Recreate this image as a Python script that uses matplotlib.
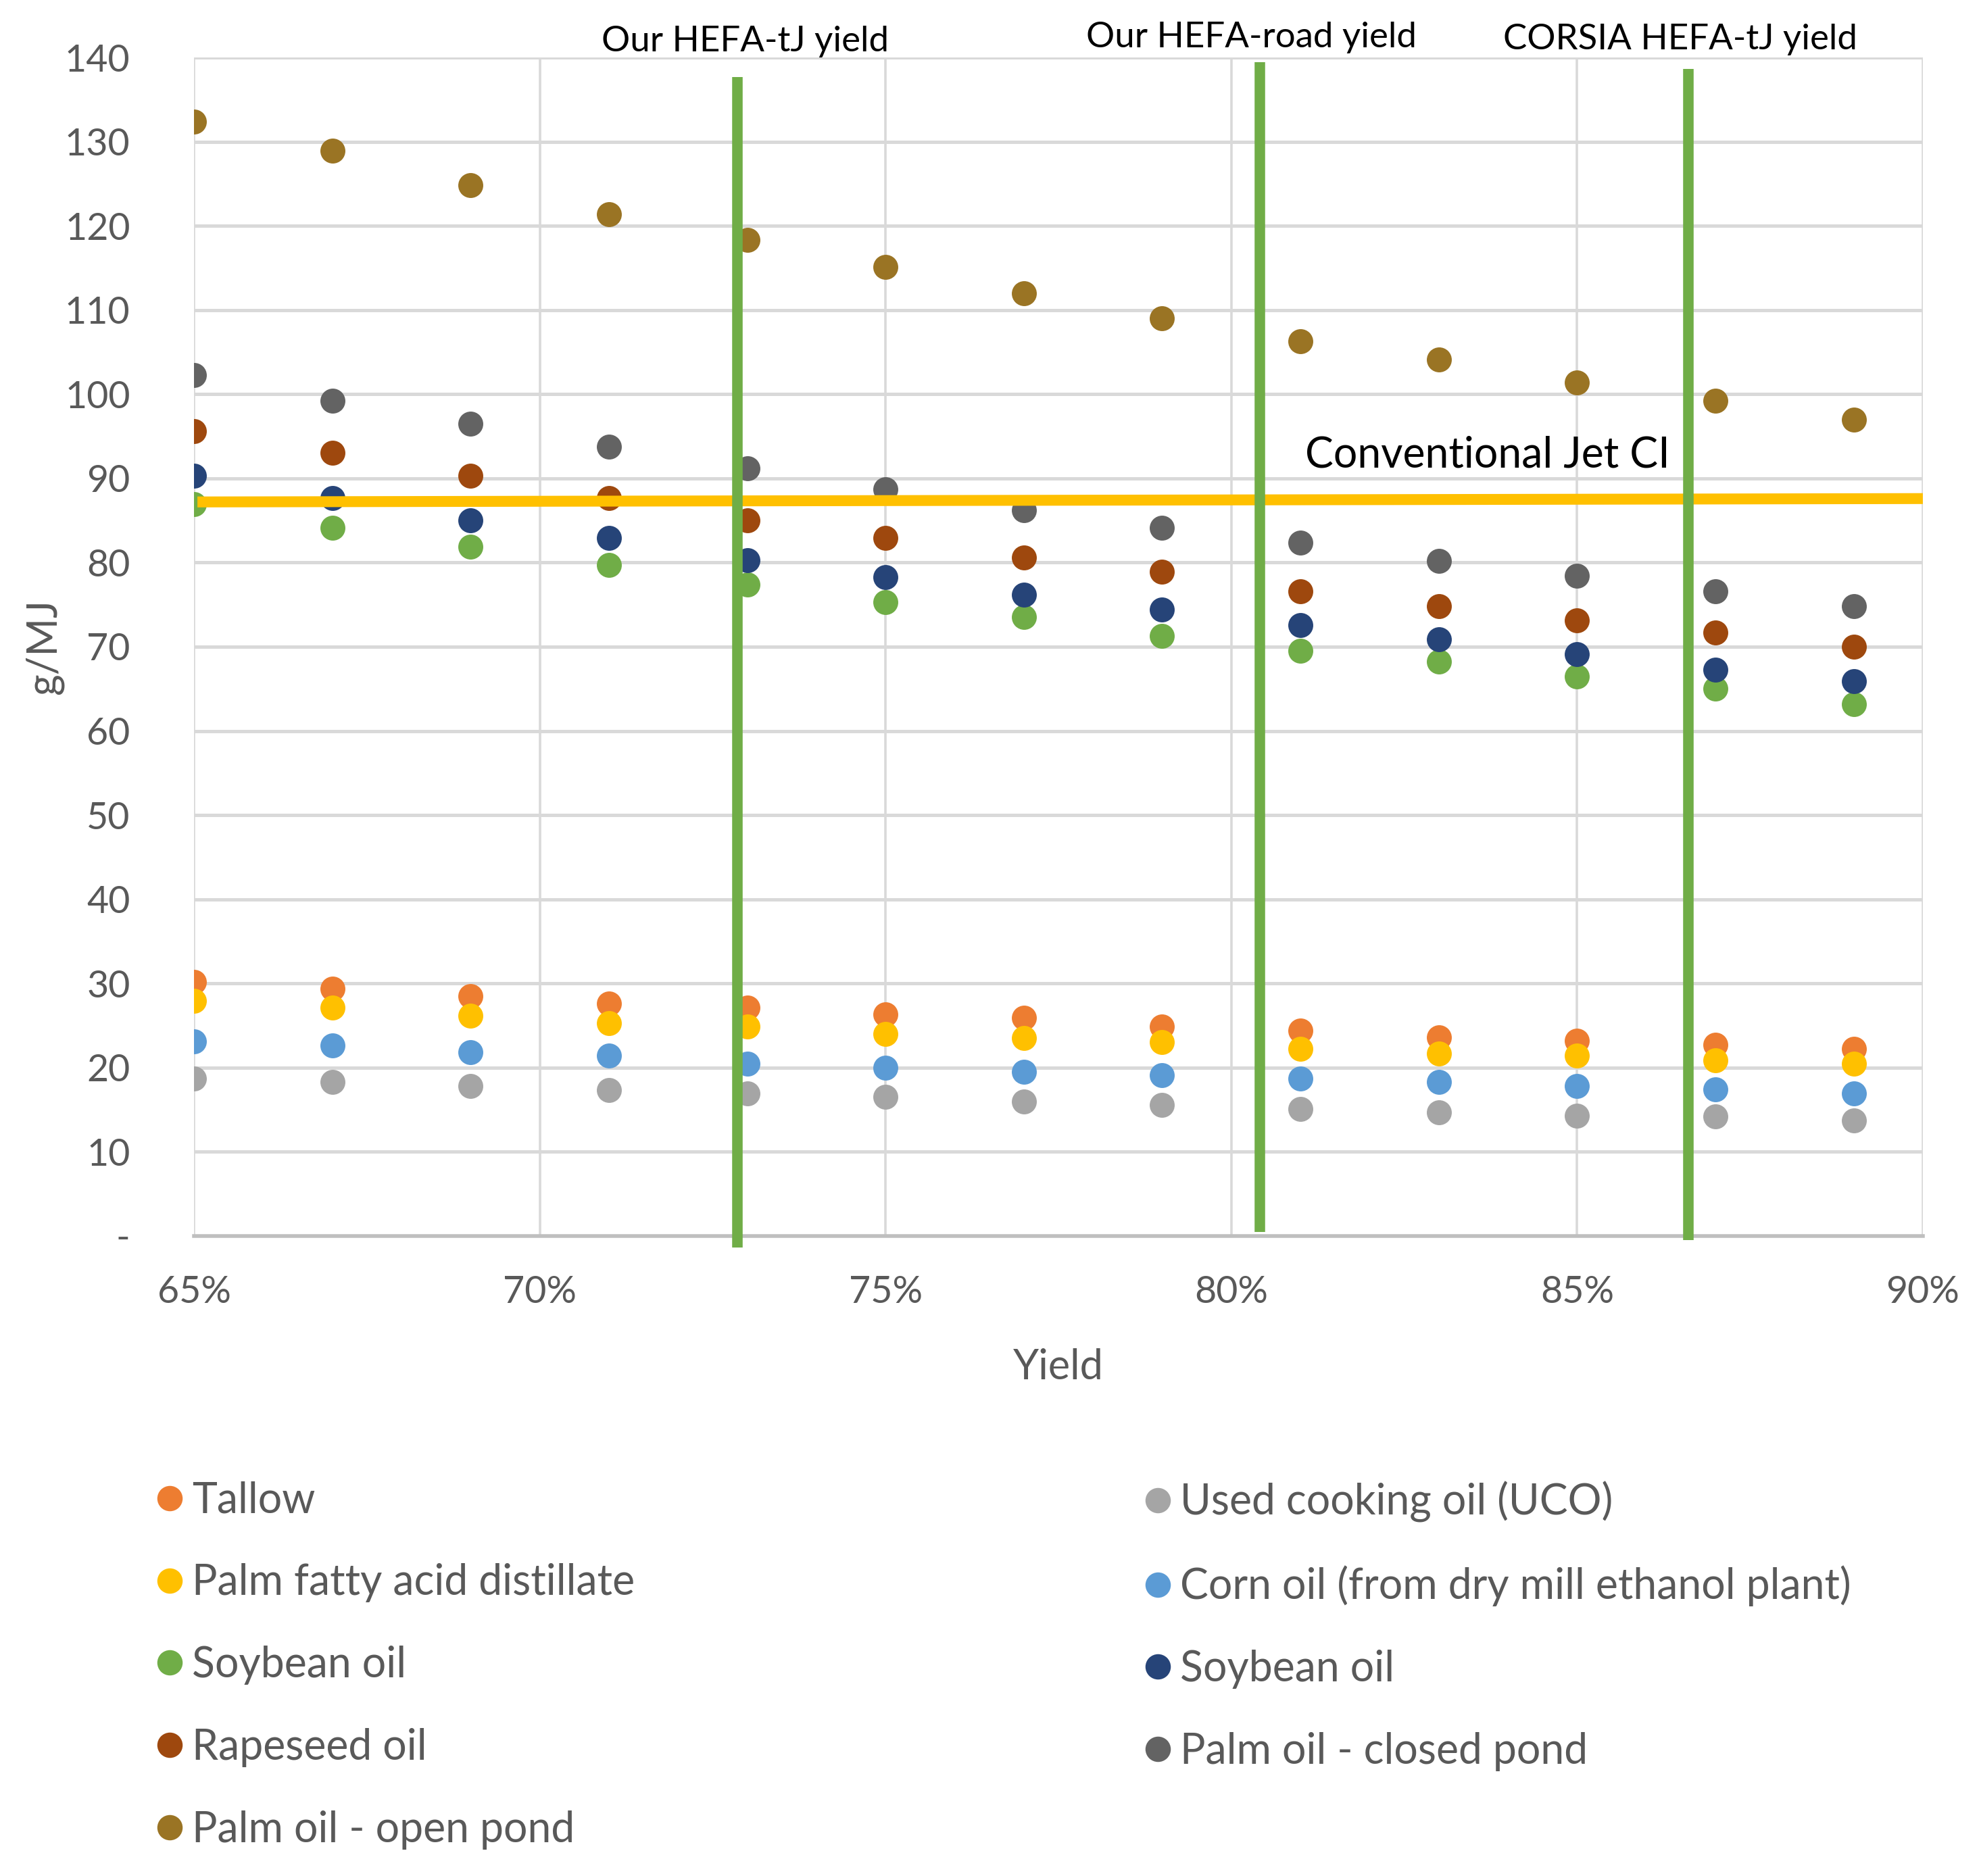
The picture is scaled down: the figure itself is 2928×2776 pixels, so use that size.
import matplotlib
matplotlib.use('Agg')
import matplotlib.pyplot as plt
from matplotlib.lines import Line2D
from matplotlib.ticker import FuncFormatter, PercentFormatter

# ---------------- data ----------------
yields = [0.65, 0.67, 0.69, 0.71, 0.73, 0.75, 0.77, 0.79, 0.81, 0.83, 0.85, 0.87, 0.89]

tallow        = [30.2, 29.4, 28.5, 27.6, 27.1, 26.3, 25.9, 24.9, 24.4, 23.6, 23.2, 22.7, 22.2]
uco           = [18.7, 18.3, 17.8, 17.3, 16.9, 16.5, 16.0, 15.6, 15.1, 14.7, 14.3, 14.2, 13.7]
pfad          = [27.9, 27.1, 26.2, 25.3, 24.9, 24.0, 23.5, 23.0, 22.2, 21.7, 21.4, 20.9, 20.5]
corn_oil      = [23.1, 22.6, 21.8, 21.4, 20.5, 20.0, 19.5, 19.1, 18.7, 18.3, 17.8, 17.4, 16.9]
soy_green     = [86.9, 84.1, 81.9, 79.7, 77.4, 75.3, 73.5, 71.3, 69.5, 68.2, 66.5, 65.0, 63.2]
soy_blue      = [90.3, 87.7, 85.0, 82.9, 80.3, 78.3, 76.2, 74.4, 72.6, 70.9, 69.1, 67.3, 65.9]
rapeseed      = [95.6, 93.0, 90.3, 87.7, 85.0, 82.9, 80.6, 78.9, 76.6, 74.8, 73.1, 71.7, 70.0]
palm_closed   = [102.3, 99.2, 96.5, 93.8, 91.2, 88.7, 86.2, 84.1, 82.4, 80.2, 78.4, 76.6, 74.8]
palm_open     = [132.4, 128.9, 124.8, 121.4, 118.3, 115.1, 112.0, 109.0, 106.3, 104.1, 101.4, 99.2, 97.0]

series_labels = ["Tallow", "Used cooking oil (UCO)", "Palm fatty acid distillate",
                 "Corn oil (from dry mill ethanol plant)", "Soybean oil", "Soybean oil",
                 "Rapeseed oil", "Palm oil - closed pond", "Palm oil - open pond"]
series_values = [tallow, uco, pfad, corn_oil, soy_green, soy_blue, rapeseed, palm_closed, palm_open]
series_colors = ["#ED7D31", "#A5A5A5", "#FFC000", "#5B9BD5", "#70AD47", "#264478",
                 "#9E480E", "#636363", "#9A7424"]

# reference yield lines (x, bottom, top)
yield_line_labels = ["Our HEFA-tJ yield", "Our HEFA-road yield", "CORSIA HEFA-tJ yield"]
yield_line_x = [0.7286, 0.8041, 0.8661]
yield_line_bottom = [-1.4, 0.5, -0.5]
yield_line_top = [137.7, 139.4, 138.6]
yield_label_x = [0.7297, 0.8029, 0.8649]
yield_label_y = [141.9, 142.4, 142.1]

# conventional jet CI line
jet_ci_label = "Conventional Jet CI"
jet_ci_x = [0.6505, 0.90]
jet_ci_y = [87.2, 87.6]

y_ticks = [0, 10, 20, 30, 40, 50, 60, 70, 80, 90, 100, 110, 120, 130, 140]
x_ticks = [0.65, 0.70, 0.75, 0.80, 0.85, 0.90]

# ---------------- plot ----------------
plt.rcParams['font.family'] = ['Lato', 'DejaVu Sans']
TXT = '#595959'

fig = plt.figure(figsize=(14.64, 13.88), dpi=200)
ax = fig.add_axes([0.09802, 0.34114, 0.8736, 0.62824])
ax.set_xlim(0.65, 0.90)
ax.set_ylim(0, 140)

for vals, col in zip(series_values, series_colors):
    ax.plot(yields, vals, 'o', ms=13.3, color=col, mec='none', zorder=3)

for x, b, t in zip(yield_line_x, yield_line_bottom, yield_line_top):
    ax.plot([x, x], [b, t], color='#70AD47', lw=5.6, solid_capstyle='butt',
            clip_on=False, zorder=6)
for x, y, s in zip(yield_label_x, yield_label_y, yield_line_labels):
    ax.text(x, y, s, ha='center', va='center', fontsize=19, color='black', clip_on=False)

ax.plot(jet_ci_x, jet_ci_y, color='#FFC000', lw=5.8, solid_capstyle='butt', zorder=5)
ax.text(0.8107, 91.3, jet_ci_label, ha='left', va='baseline', fontsize=22.5, color='black')

# axes styling
ax.set_yticks(y_ticks)
ax.set_xticks(x_ticks)
ax.yaxis.set_major_formatter(FuncFormatter(lambda v, p: '-' if v == 0 else f'{v:.0f}'))
ax.xaxis.set_major_formatter(PercentFormatter(xmax=1, decimals=0))
ax.tick_params(axis='y', length=0, pad=34, labelsize=20, labelcolor=TXT)
ax.tick_params(axis='x', length=0, pad=21, labelsize=20, labelcolor=TXT)
ax.grid(axis='y', color='#D9D9D9', lw=1.8, zorder=0)
ax.grid(axis='x', color='#D9D9D9', lw=1.3, zorder=0)
ax.set_axisbelow(True)
for s in ['top', 'right', 'left']:
    ax.spines[s].set_visible(False)
ax.spines['bottom'].set_color('#BFBFBF')
ax.spines['bottom'].set_linewidth(2.0)

ax.set_xlabel('Yield', fontsize=22, color=TXT, va='center')
ax.xaxis.set_label_coords(0.5, -0.1118)
ax.set_ylabel('g/MJ', fontsize=22, color=TXT, va='center')
ax.yaxis.set_label_coords(-0.0868, 0.5)

# legends (two columns)
def handle(c):
    return Line2D([], [], ls='none', marker='o', ms=13.5, color=c, mec='none')

col1 = [0, 2, 4, 6, 8]
col2 = [1, 3, 5, 7]
common = dict(loc='upper left', frameon=False, borderpad=0, borderaxespad=0,
              handlelength=0.75, handletextpad=0.15, labelspacing=1.02,
              fontsize=22.5, labelcolor=TXT)
leg1 = fig.legend([handle(series_colors[i]) for i in col1],
                  [series_labels[i] for i in col1],
                  bbox_to_anchor=(0.0778, 0.2105), **common)
leg2 = fig.legend([handle(series_colors[i]) for i in col2],
                  [series_labels[i] for i in col2],
                  bbox_to_anchor=(0.5772, 0.2105), **common)

fig.savefig('out.png', dpi=200, facecolor='white')
